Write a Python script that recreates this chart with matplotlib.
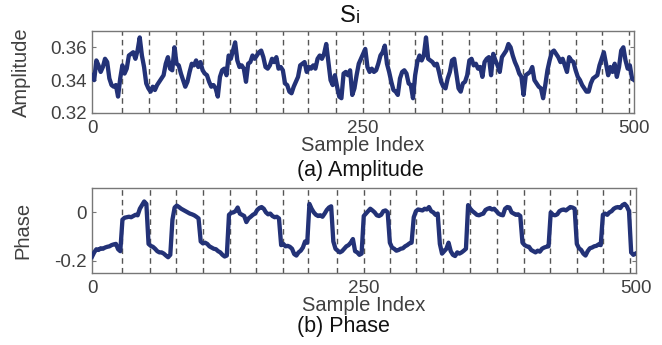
import numpy as np
import matplotlib
matplotlib.use("Agg")
import matplotlib.pyplot as plt

plt.rcParams['font.family'] = ['Liberation Sans', 'DejaVu Sans']

# samples are read every 2 indices from the reference
sample_step = 2

amplitude = [
    0.343, 0.340, 0.352, 0.349, 0.345, 0.348, 0.353, 0.351, 0.341, 0.337,
    0.336, 0.337, 0.330, 0.341, 0.349, 0.344, 0.347, 0.355, 0.356, 0.357,
    0.353, 0.358, 0.366, 0.355, 0.348, 0.338, 0.335, 0.333, 0.336, 0.334,
    0.337, 0.339, 0.341, 0.343, 0.350, 0.354, 0.347, 0.346, 0.360, 0.350,
    0.349, 0.344, 0.340, 0.336, 0.339, 0.345, 0.350, 0.349, 0.352, 0.348,
    0.351, 0.346, 0.344, 0.343, 0.339, 0.336, 0.337, 0.335, 0.330, 0.342,
    0.346, 0.347, 0.343, 0.355, 0.353, 0.358, 0.363, 0.352, 0.348, 0.349,
    0.347, 0.339, 0.350, 0.351, 0.355, 0.353, 0.355, 0.357, 0.358, 0.354,
    0.348, 0.347, 0.349, 0.353, 0.351, 0.354, 0.347, 0.348, 0.346, 0.338,
    0.337, 0.333, 0.332, 0.336, 0.339, 0.342, 0.349, 0.350, 0.351, 0.345,
    0.348, 0.347, 0.349, 0.347, 0.353, 0.355, 0.353, 0.356, 0.362, 0.351,
    0.340, 0.337, 0.343, 0.336, 0.330, 0.329, 0.344, 0.345, 0.343, 0.346,
    0.331, 0.335, 0.343, 0.350, 0.353, 0.356, 0.359, 0.348, 0.345, 0.347,
    0.345, 0.346, 0.350, 0.355, 0.357, 0.361, 0.350, 0.345, 0.339, 0.334,
    0.333, 0.331, 0.341, 0.345, 0.346, 0.344, 0.338, 0.337, 0.329, 0.343,
    0.351, 0.355, 0.352, 0.355, 0.366, 0.353, 0.352, 0.351, 0.349, 0.350,
    0.345, 0.339, 0.336, 0.335, 0.341, 0.345, 0.352, 0.353, 0.344, 0.335,
    0.333, 0.338, 0.339, 0.343, 0.352, 0.353, 0.349, 0.350, 0.347, 0.348,
    0.342, 0.351, 0.353, 0.354, 0.343, 0.356, 0.352, 0.349, 0.345, 0.354,
    0.356, 0.358, 0.362, 0.360, 0.355, 0.351, 0.348, 0.344, 0.342, 0.331,
    0.343, 0.344, 0.345, 0.348, 0.340, 0.338, 0.336, 0.335, 0.329, 0.337,
    0.346, 0.352, 0.357, 0.358, 0.356, 0.354, 0.351, 0.353, 0.349, 0.345,
    0.354, 0.352, 0.351, 0.346, 0.342, 0.340, 0.337, 0.335, 0.333, 0.333,
    0.338, 0.341, 0.342, 0.343, 0.349, 0.353, 0.357, 0.350, 0.343, 0.348,
    0.345, 0.350, 0.342, 0.348, 0.358, 0.360, 0.352, 0.347, 0.349, 0.341,
    0.340,
]

phase = [
    -0.183, -0.165, -0.152, -0.155, -0.148, -0.150, -0.145, -0.142, -0.140, -0.135,
    -0.132, -0.130, -0.152, -0.160, -0.030, -0.022, -0.020, -0.018, -0.020, -0.015,
    -0.010, -0.012, 0.015, 0.030, 0.045, 0.035, -0.130, -0.138, -0.142, -0.150,
    -0.160, -0.165, -0.165, -0.170, -0.178, -0.185, -0.175, -0.030, 0.020, 0.028,
    0.022, 0.015, 0.010, 0.005, 0.000, -0.005, -0.008, -0.012, -0.018, -0.025,
    -0.120, -0.128, -0.125, -0.130, -0.140, -0.145, -0.150, -0.152, -0.160, -0.165,
    -0.175, -0.182, -0.178, -0.010, -0.002, 0.000, 0.005, 0.020, -0.005, -0.010,
    -0.015, -0.040, -0.025, -0.018, -0.010, -0.005, 0.010, 0.018, 0.022, 0.015,
    0.000, -0.008, -0.005, -0.015, -0.020, -0.018, -0.025, -0.135, -0.130, -0.140,
    -0.138, -0.142, -0.150, -0.172, -0.178, -0.165, -0.158, -0.145, -0.120, -0.125,
    0.035, 0.015, 0.000, -0.010, -0.015, -0.012, -0.018, -0.005, 0.010, 0.020,
    0.025, -0.120, -0.150, -0.158, -0.165, -0.160, -0.150, -0.140, -0.135, -0.125,
    -0.110, -0.160, -0.165, -0.175, -0.170, -0.015, -0.005, 0.005, 0.015, 0.008,
    0.000, -0.012, -0.015, -0.010, 0.005, 0.008, 0.000, -0.125, -0.145, -0.150,
    -0.158, -0.155, -0.150, -0.148, -0.140, -0.135, -0.128, -0.125, -0.020, 0.005,
    0.012, 0.010, 0.008, 0.015, 0.012, 0.022, 0.005, 0.000, -0.010, -0.005,
    -0.130, -0.170, -0.160, -0.150, -0.125, -0.160, -0.175, -0.180, -0.165, -0.170,
    -0.165, -0.158, -0.150, 0.030, 0.015, 0.005, -0.002, -0.010, -0.012, -0.008,
    -0.005, 0.010, 0.015, 0.018, 0.012, 0.015, 0.005, -0.005, -0.010, -0.012,
    0.015, 0.022, 0.020, 0.000, -0.005, -0.010, -0.008, -0.015, -0.125, -0.135,
    -0.140, -0.142, -0.155, -0.160, -0.165, -0.158, -0.162, -0.150, -0.145, -0.142,
    -0.140, 0.000, -0.010, -0.012, -0.008, 0.005, 0.010, 0.012, 0.008, 0.015,
    0.022, 0.020, 0.015, -0.130, -0.148, -0.155, -0.170, -0.178, -0.160, -0.148,
    -0.145, -0.140, -0.138, -0.132, -0.135, -0.010, -0.005, -0.010, 0.000, 0.005,
    0.015, 0.020, 0.022, 0.018, 0.030, 0.035, 0.025, 0.005, -0.165, -0.175,
    -0.170,
]

# packet boundaries (dashed lines)
boundaries = [28, 53, 77, 102, 127, 151, 176, 199, 225, 250,
              274, 298, 323, 348, 373, 397, 421, 446, 470, 495]

x_ticks = [0, 250, 500]
amp_ticks = [0.32, 0.34, 0.36]
amp_labels = ['0.32', '0.34', '0.36']
phase_ticks = [-0.2, 0]
phase_labels = ['-0.2', '0']

line_color = '#233277'
text_gray = '#404040'
spine_gray = '#777777'

samples = np.arange(len(amplitude)) * sample_step

fig = plt.figure(figsize=(6.62, 3.45), dpi=100)
ax1 = fig.add_axes([0.139, 0.6725, 0.819, 0.238])
ax2 = fig.add_axes([0.139, 0.2087, 0.821, 0.246])


def style_axis(ax, ylabel, ypos):
    for b in boundaries:
        ax.axvline(b, color='#555555', lw=1.0, ls=(0, (4, 3)), zorder=1)
    ax.set_xlim(0, 500)
    ax.set_xticks(x_ticks)
    ax.set_xticklabels([str(t) for t in x_ticks])
    ax.tick_params(direction='in', length=3, width=0.8, color=spine_gray,
                   labelcolor=text_gray, labelsize=13.5, top=False, right=True)
    ax.tick_params(axis='x', pad=5, length=0)
    for s in ax.spines.values():
        s.set_color(spine_gray)
        s.set_linewidth(1.0)
    ax.set_xlabel('Sample Index', fontsize=14.5, color=text_gray, labelpad=-1)
    ax.set_ylabel(ylabel, fontsize=14.5, color=text_gray)
    ax.yaxis.set_label_coords(ypos, 0.5)


ax1.plot(samples, amplitude, color=line_color, lw=3.1, zorder=3)
ax1.set_ylim(0.32, 0.37)
ax1.set_yticks(amp_ticks)
ax1.set_yticklabels(amp_labels)
style_axis(ax1, 'Amplitude', -0.112)

ax2.plot(samples, phase, color=line_color, lw=3.1, zorder=3)
ax2.set_ylim(-0.25, 0.1)
ax2.set_yticks(phase_ticks)
ax2.set_yticklabels(phase_labels)
style_axis(ax2, 'Phase', -0.11)

fig.text(0.537, 0.955, 'S', fontsize=17, ha='right', va='center', color='#111111')
fig.text(0.538, 0.946, 'i', fontsize=13, ha='left', va='center', color='#111111')

fig.text(0.449, 0.505, '(a) Amplitude', fontsize=15.5, ha='left', va='center', color='#111111')
fig.text(0.449, 0.055, '(b) Phase', fontsize=15.5, ha='left', va='center', color='#111111')

fig.savefig('out.png', dpi=100)
